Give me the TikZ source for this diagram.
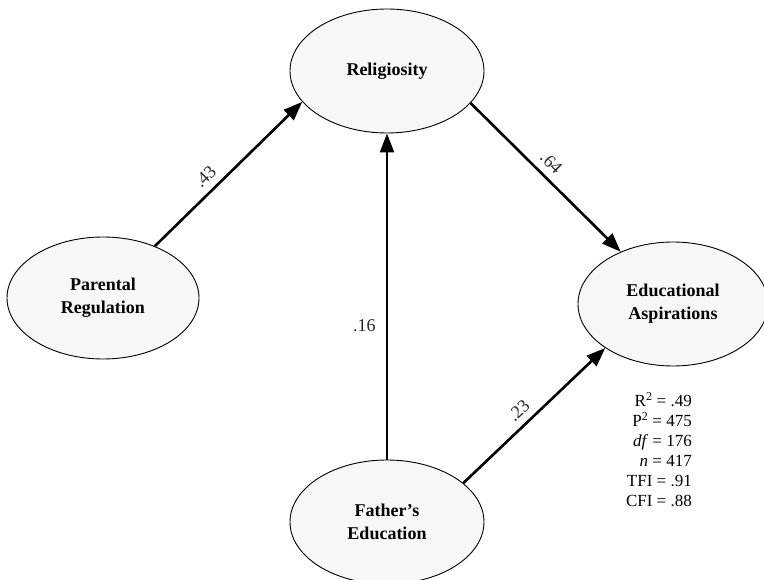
\documentclass[tikz,border=0pt]{standalone}
\usepackage{fontspec}
\setmainfont{Liberation Serif}
\usetikzlibrary{shapes.geometric, arrows.meta}
\tikzstyle{latent} = [ellipse,
draw=black, line width=0.9pt,
fill=gray!6,
minimum width=194pt,
minimum height=124pt,
inner sep=0pt, align=center,
font=\fontsize{18}{23}\selectfont\bfseries]
\tikzstyle{effect} = [line width=2.6pt,->,draw=black]
\tikzstyle{coef} = [font=\fontsize{18}{22}\selectfont, text=black!85, inner sep=2pt]
\tikzstyle{fitstats} = [align=right, inner sep=0pt, font=\fontsize{17}{20}\selectfont]

\begin{document}
\begin{tikzpicture}[x=1pt, y=-1pt, >={Triangle[length=19pt,width=14pt]}]
        \useasboundingbox (0,0) rectangle (764,580);

        % Variables latentes
        \node[latent] (rel) at (387,71) {Religiosity};
        \node[latent, minimum width=192pt, minimum height=122pt] (par) at (103,298) {Parental\\Regulation};
        \node[latent, minimum width=190pt] (edu) at (673,304) {Educational\\Aspirations};
        \node[latent] (fat) at (387,522) {Father’s\\Education};

        % Efectos directos con sus coeficientes
        \draw[effect] (par.45) -- (rel.200) node[coef, sloped, above=5pt, pos=0.41] (c43) {.43};
        \draw[effect] (rel.339) -- (edu.135) node[coef, sloped, above=5pt, pos=0.47] (c64) {.64};
        \draw[effect] (fat.north) -- (rel.south) node[coef, pos=0.41, left=8pt] (c16) {.16};
        \draw[effect] (fat.27) -- (edu.213) node[coef, sloped, above=5pt, pos=0.46] (c23) {.23};

        % Ajuste del modelo
        \node[fitstats, anchor=north east] (fit) at (692,392)
        {R\textsuperscript{2} = .49\\P\textsuperscript{2} = 475\\\textit{df} = 176\\\textit{n} = 417\\TFI = .91\\CFI = .88};

    \end{tikzpicture}
\end{document}
